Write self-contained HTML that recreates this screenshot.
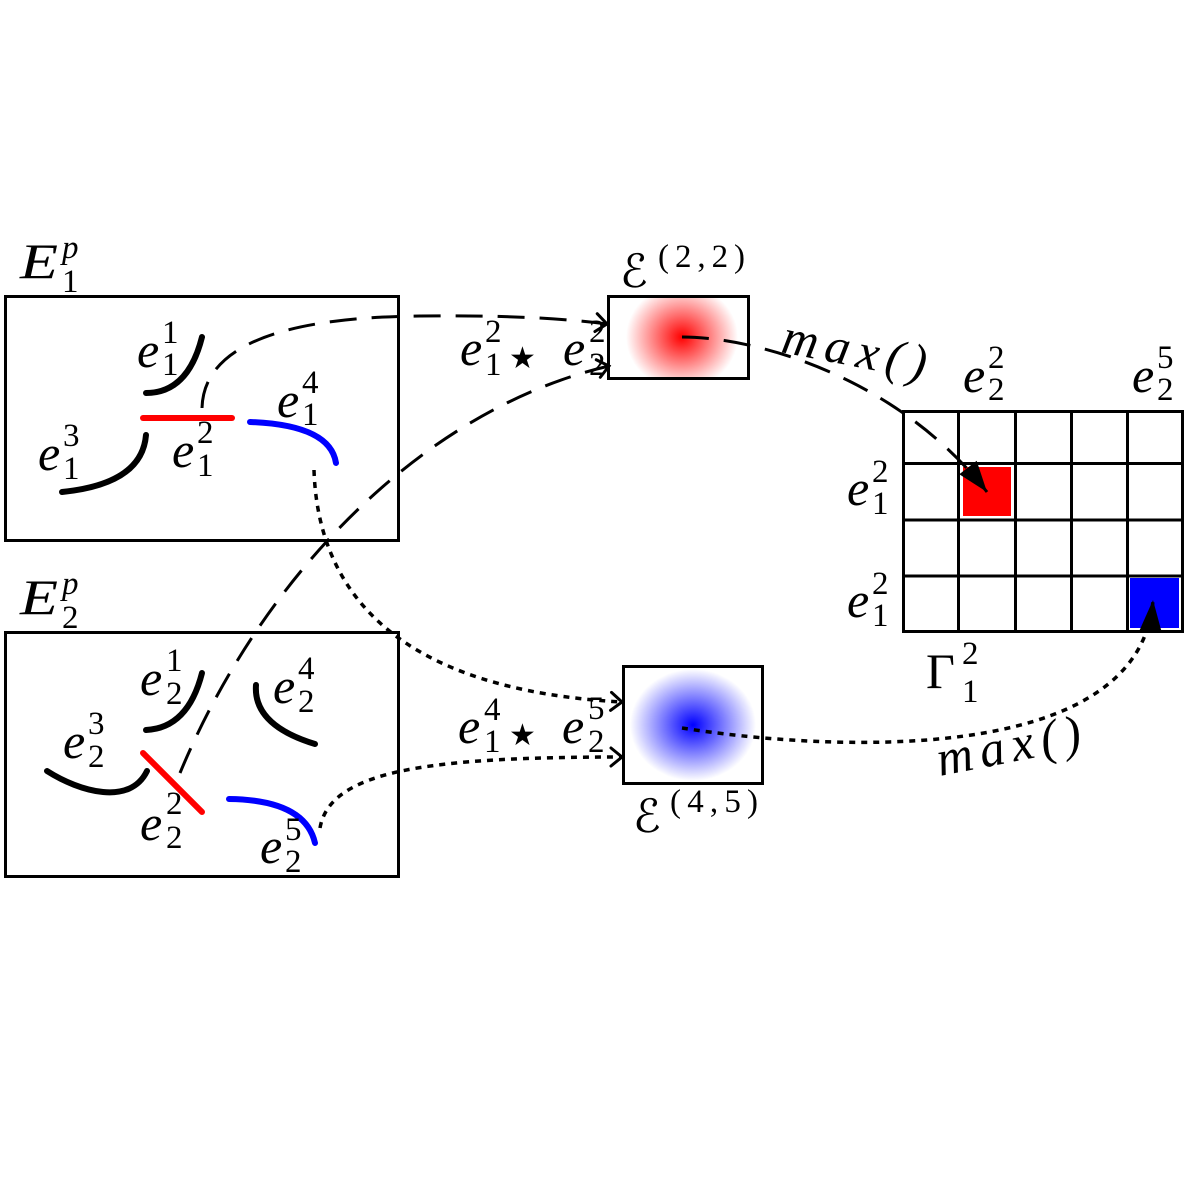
<!DOCTYPE html>
<html>
<head>
<meta charset="utf-8">
<style>
html,body{margin:0;padding:0;background:#fff;}
svg{display:block;font-family:'Liberation Serif',serif !important;}
.i{font-style:italic;font-size:50px;}
.s{font-size:33px;}
.si{font-style:italic;font-size:33px;}
.sc{font-family:'DejaVu Sans',sans-serif;font-size:46px;font-style:italic;}
.st{font-family:'DejaVu Sans',sans-serif;font-size:30px;}
</style>
</head>
<body>
<svg width="1198" height="1198" viewBox="0 0 1198 1198" xmlns="http://www.w3.org/2000/svg" style="font-family:'Liberation Serif',serif">
<defs>
  <radialGradient id="rg">
    <stop offset="0" stop-color="#ff0000" stop-opacity="1"/>
    <stop offset="1" stop-color="#ff0000" stop-opacity="0"/>
  </radialGradient>
  <radialGradient id="bg">
    <stop offset="0" stop-color="#0000ff" stop-opacity="1"/>
    <stop offset="1" stop-color="#0000ff" stop-opacity="0"/>
  </radialGradient>
  <clipPath id="c1"><rect x="608" y="296" width="141" height="83"/></clipPath>
  <clipPath id="c2"><rect x="623" y="666" width="140" height="118"/></clipPath>
  <marker id="op" markerUnits="userSpaceOnUse" viewBox="-20 -15 30 30" markerWidth="30" markerHeight="30" refX="0" refY="0" orient="auto">
    <path d="M-11,-9 L0,0 L-11,9" fill="none" stroke="#000" stroke-width="3" stroke-dasharray="none" stroke-linecap="round"/>
  </marker>
  <marker id="fl" markerUnits="userSpaceOnUse" viewBox="-35 -15 40 30" markerWidth="40" markerHeight="30" refX="0" refY="0" orient="auto">
    <path d="M-31,-11 L0,0 L-31,11 Z" fill="#000"/>
  </marker>
</defs>

<!-- gradients -->
<g clip-path="url(#c1)"><ellipse cx="682" cy="337" rx="56" ry="52" fill="url(#rg)"/></g>
<g clip-path="url(#c2)"><ellipse cx="693" cy="725" rx="63" ry="56" fill="url(#bg)"/></g>

<!-- boxes -->
<g fill="none" stroke="#000" stroke-width="3">
  <rect x="5.5" y="296.5" width="393" height="244"/>
  <rect x="5.5" y="632.5" width="393" height="244"/>
  <rect x="608.5" y="296.5" width="140" height="82"/>
  <rect x="623.5" y="666.5" width="139" height="117"/>
</g>

<!-- grid -->
<rect x="963" y="467" width="48" height="49" fill="#ff0000"/>
<rect x="1130" y="578" width="49" height="50" fill="#0000ff"/>
<g stroke="#000" stroke-width="3" fill="none">
  <rect x="903.5" y="411.5" width="279" height="220"/>
  <line x1="958.5" y1="411" x2="958.5" y2="632"/>
  <line x1="1015.5" y1="411" x2="1015.5" y2="632"/>
  <line x1="1071.5" y1="411" x2="1071.5" y2="632"/>
  <line x1="1127.5" y1="411" x2="1127.5" y2="632"/>
  <line x1="903" y1="463.5" x2="1183" y2="463.5"/>
  <line x1="903" y1="520" x2="1183" y2="520"/>
  <line x1="903" y1="576" x2="1183" y2="576"/>
</g>

<!-- edge curves E1 -->
<g fill="none" stroke-linecap="round" stroke-width="6">
  <path d="M202,337 Q188,393 146,393" stroke="#000"/>
  <path d="M146,435 Q142,484 62,492" stroke="#000"/>
  <path d="M143,418 L232,418" stroke="#ff0000"/>
  <path d="M250,422 Q330,425 336,463" stroke="#0000ff"/>
  <!-- E2 -->
  <path d="M202,673 Q188,728 146,730" stroke="#000"/>
  <path d="M256,685 Q253,725 315,744" stroke="#000"/>
  <path d="M47,771 C80,792 130,806 147,771" stroke="#000"/>
  <path d="M143,753 L202,812" stroke="#ff0000"/>
  <path d="M229,799 Q305,800 315,843" stroke="#0000ff"/>
</g>

<!-- connectors -->
<g fill="none" stroke="#000" stroke-width="3">
  <path d="M202,408 C204,332 320,317 420,316 C500,315 560,318 607,324" stroke-dasharray="27 15" marker-end="url(#op)"/>
  <path d="M180,773 C260,580 420,410 609,366" stroke-dasharray="27 15" marker-end="url(#op)"/>
  <path d="M682,337 C760,337 900,380 987,492" stroke-dasharray="27 15" marker-end="url(#fl)"/>
  <path d="M314,470 C318,595 400,690 622,702" stroke-dasharray="6 6" stroke-width="3.5" marker-end="url(#op)"/>
  <path d="M320,828 C330,770 430,757 622,757" stroke-dasharray="6 6" stroke-width="3.5" marker-end="url(#op)"/>
  <path d="M682,728 C820,750 1140,770 1153,600" stroke-dasharray="6 6" stroke-width="3.5" marker-end="url(#fl)"/>
</g>

<g font-family="Liberation Serif, serif" style="font-family:'Liberation Serif',serif">
<!-- E1 labels -->
<text class="i" x="20" y="278" textLength="38" lengthAdjust="spacingAndGlyphs">E</text>
<text class="si" x="62" y="258">p</text>
<text class="s" x="62" y="292">1</text>

<text class="i" x="137" y="367">e</text><text class="s" x="162" y="343">1</text><text class="s" x="162" y="375">1</text>
<text class="i" x="172" y="467">e</text><text class="s" x="197" y="443">2</text><text class="s" x="197" y="476">1</text>
<text class="i" x="38" y="470">e</text><text class="s" x="63" y="446">3</text><text class="s" x="63" y="479">1</text>
<text class="i" x="277" y="417">e</text><text class="s" x="302" y="393">4</text><text class="s" x="302" y="425">1</text>

<!-- E2 labels -->
<text class="i" x="20" y="614" textLength="38" lengthAdjust="spacingAndGlyphs">E</text>
<text class="si" x="62" y="594">p</text>
<text class="s" x="62" y="628">2</text>

<text class="i" x="140" y="695">e</text><text class="s" x="166" y="671">1</text><text class="s" x="166" y="704">2</text>
<text class="i" x="273" y="703">e</text><text class="s" x="298" y="679">4</text><text class="s" x="298" y="712">2</text>
<text class="i" x="63" y="758">e</text><text class="s" x="88" y="734">3</text><text class="s" x="88" y="767">2</text>
<text class="i" x="140" y="840">e</text><text class="s" x="166" y="814">2</text><text class="s" x="166" y="848">2</text>
<text class="i" x="260" y="863">e</text><text class="s" x="285" y="840">5</text><text class="s" x="285" y="872">2</text>

<!-- middle labels -->
<text class="i" x="460" y="365">e</text><text class="s" x="485" y="342">2</text><text class="s" x="485" y="375">1</text>
<text class="i" x="563" y="365">e</text><text class="s" x="589" y="342">2</text><text class="s" x="589" y="375">2</text>

<text class="i" x="458" y="743">e</text><text class="s" x="484" y="720">4</text><text class="s" x="484" y="752">1</text>
<text class="i" x="562" y="743">e</text><text class="s" x="588" y="719">5</text><text class="s" x="588" y="752">2</text>

<text class="s" x="658" y="267" textLength="87" lengthAdjust="spacing">(2,2)</text>
<text class="s" x="670" y="812" textLength="88" lengthAdjust="spacing">(4,5)</text>

<!-- max labels -->
<text class="i" transform="translate(780,352) rotate(11)" textLength="146" lengthAdjust="spacing">max()</text>
<text class="i" transform="translate(940,776) rotate(-11)" textLength="146" lengthAdjust="spacing">max()</text>

<!-- grid labels -->
<text class="i" x="963" y="392">e</text><text class="s" x="988" y="368">2</text><text class="s" x="988" y="400">2</text>
<text class="i" x="1132" y="392">e</text><text class="s" x="1157" y="368">5</text><text class="s" x="1157" y="400">2</text>
<text class="i" x="847" y="505">e</text><text class="s" x="872" y="482">2</text><text class="s" x="872" y="514">1</text>
<text class="i" x="847" y="617">e</text><text class="s" x="872" y="594">2</text><text class="s" x="872" y="626">1</text>

<text x="926" y="688" font-size="50">Γ</text>
<text class="s" x="962" y="664">2</text>
<text class="s" x="962" y="702">1</text>
</g>

<g style="font-family:'DejaVu Sans',sans-serif">
<text class="st" x="509" y="368">★</text>
<text class="st" x="509" y="745">★</text>
<text class="sc" x="620" y="287">ℰ</text>
<text class="sc" x="633" y="832">ℰ</text>
</g>
</svg>
</body>
</html>
